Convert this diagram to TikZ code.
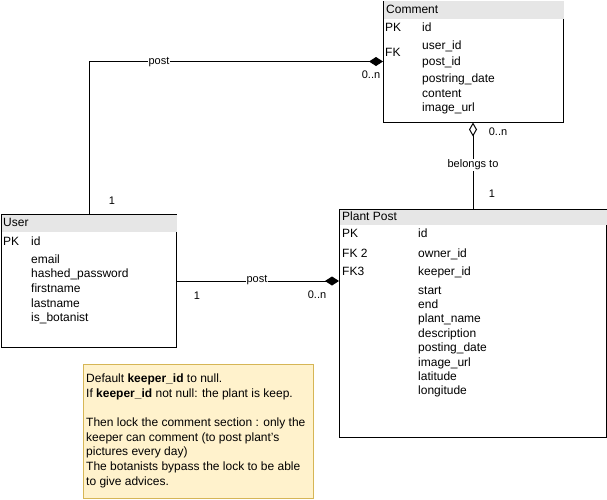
\documentclass[tikz,border=0pt]{standalone}
\usepackage{fontspec}
\setmainfont{Liberation Sans}
\usetikzlibrary{arrows.meta}
\definecolor{hdrgray}{HTML}{E6E6E6}
\definecolor{notefill}{HTML}{FFF2CC}
\definecolor{notedraw}{HTML}{D6B656}
\begin{document}
\begin{tikzpicture}[x=1pt,y=-1pt,
  font=\fontsize{12}{14}\selectfont,
  tbl/.style={draw=black, line width=1pt, anchor=north west, inner sep=0pt, rectangle},
  fld/.style={anchor=mid west, inner sep=0pt, yshift=-2pt},
  lbl/.style={font=\fontsize{11}{13}\selectfont, fill=white, inner sep=1pt},
  card/.style={font=\fontsize{11}{13}\selectfont, inner sep=0pt, yshift=-1pt},
  conn/.style={draw=black, line width=1pt},
  comp/.style={-{Diamond[length=14pt,width=9pt]}},
  aggr/.style={-{Diamond[length=14pt,width=8pt,fill=white]}},
]
\useasboundingbox (0,0) rectangle (607,499);

% ---- tables ----
\node[tbl, minimum width=180pt, minimum height=121pt] (comment) at (383,0.5) {};
\fill[hdrgray] ([shift={(0.5,0.5)}]comment.north west) rectangle ([shift={(-0.5,18)}]comment.north east);
\node[tbl, minimum width=175pt, minimum height=133pt] (user) at (1,214) {};
\fill[hdrgray] ([shift={(0.5,0.5)}]user.north west) rectangle ([shift={(-0.5,18)}]user.north east);
\node[tbl, minimum width=267pt, minimum height=228pt] (plant) at (339,209) {};
\fill[hdrgray] ([shift={(0.5,0.5)}]plant.north west) rectangle ([shift={(-0.5,16)}]plant.north east);

% ---- Comment fields ----
\node[fld] (cT) at (386,9) {Comment};
\node[fld] (cpk) at (385,27) {PK};
\node[fld] (cid) at (422,27) {id};
\node[fld] (cfk) at (385,52) {FK};
\node[fld] (cuid) at (422,45) {user\_id};
\node[fld] (cpid) at (422,61) {post\_id};
\node[fld] (cpd) at (422,78) {postring\_date};
\node[fld] (cct) at (422,93) {content};
\node[fld] (ciu) at (422,107) {image\_url};

% ---- User fields ----
\node[fld] (uT) at (3,222) {User};
\node[fld] (upk) at (3,241) {PK};
\node[fld] (uid) at (31,241) {id};
\node[fld] (uem) at (31,259) {email};
\node[fld] (uhp) at (31,273) {hashed\_password};
\node[fld] (ufn) at (31,288) {firstname};
\node[fld] (uln) at (31,303) {lastname};
\node[fld] (uib) at (31,317) {is\_botanist};

% ---- Plant Post fields ----
\node[fld] (pT) at (342,216) {Plant Post};
\node[fld] (ppk) at (342,233) {PK};
\node[fld] (pid) at (418,233) {id};
\node[fld] (pfk2) at (342,253) {FK 2};
\node[fld] (poid) at (418,253) {owner\_id};
\node[fld] (pfk3) at (342,271) {FK3};
\node[fld] (pkid) at (418,271) {keeper\_id};
\node[fld] (pst) at (418,290) {start};
\node[fld] (pen) at (418,304) {end};
\node[fld] (ppn) at (418,318) {plant\_name};
\node[fld] (pde) at (418,333) {description};
\node[fld] (ppd) at (418,347) {posting\_date};
\node[fld] (piu) at (418,362) {image\_url};
\node[fld] (pla) at (418,376) {latitude};
\node[fld] (plo) at (418,390) {longitude};

% ---- note ----
\node[draw=notedraw, fill=notefill, line width=1pt, anchor=north west, minimum width=230pt, minimum height=134pt, inner sep=0pt] (note) at (83,364) {};
\node[anchor=north west, inner sep=0pt, align=left, font=\fontsize{12}{14.6}\selectfont] (notetext) at (86,374)
 {Default \textbf{keeper\_id} to null.\\
  If \textbf{keeper\_id} not null: the plant is keep.\\
  \mbox{}\\
  Then lock the comment section : only the\\
  keeper can comment (to post plant's\\
  pictures every day)\\
  The botanists bypass the lock to be able\\
  to give advices.};

% ---- connectors ----
\draw[conn, comp] ([xshift=88pt]user.north west) |- (comment.west);
\node[lbl] (l1) at (159,62) {post};
\node[card] (c1a) at (112,200) {1};
\node[card] (c1b) at (371,74) {0..n};

\draw[conn, comp] (user.east) -- (user.east -| plant.west);
\node[lbl] (l2) at (257,280.5) {post};
\node[card] (c2a) at (197,295) {1};
\node[card] (c2b) at (317,294) {0..n};

\draw[conn, aggr] (plant.north) -- (plant.north |- comment.south);
\node[lbl] (l3) at (473,165) {belongs to};
\node[card] (c3a) at (498,131) {0..n};
\node[card] (c3b) at (492,193) {1};
\end{tikzpicture}
\end{document}
